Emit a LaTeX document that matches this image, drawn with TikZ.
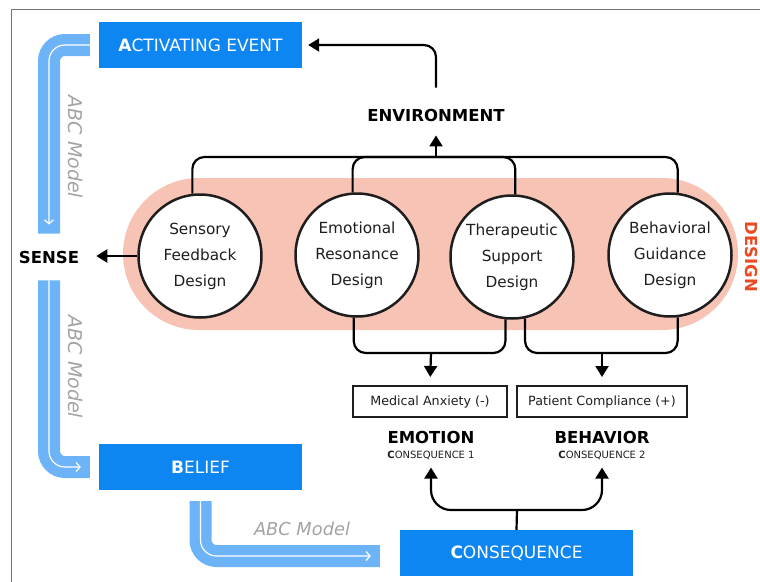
\documentclass[tikz,border=0pt]{standalone}
\usepackage{fontspec}
\setmainfont{DejaVu Sans}
\usepackage{xcolor}
\usepackage{tikz}
\usetikzlibrary{
  shapes.geometric,
  arrows.meta, positioning, calc
}
\definecolor{colorA}{HTML}{0D86F2}
\definecolor{colorB}{HTML}{6CB4F7}
\definecolor{colorP}{HTML}{F6C3B5}
\definecolor{colorR}{HTML}{EA4A22}
\definecolor{colorG}{HTML}{A3A3A3}
\definecolor{colorK}{HTML}{1E1E1E}

\tikzset{
  abcbox/.style={fill=colorA, text=white, minimum width=203pt, minimum height=46pt,
    inner sep=0pt, font=\fontsize{17}{20}\selectfont},
  design/.style={circle, draw=colorK, line width=2.5pt, fill=white, minimum size=123pt,
    inner sep=0pt, align=center, text=colorK, font=\fontsize{15.3}{26}\selectfont},
  result/.style={draw=colorK, line width=2pt, minimum height=31pt, inner sep=0pt,
    text=colorK, font=\fontsize{12.7}{15}\selectfont},
  head/.style={inner sep=1pt, text=black, font=\fontsize{16.5}{20}\selectfont\bfseries},
  sub/.style={inner sep=1pt, text=colorK, font=\fontsize{10}{12}\selectfont},
  link/.style={draw=black, line width=2.2pt, rounded corners=12pt},
  arr/.style={link, -{Triangle[length=11pt,width=13pt]}},
  band/.style={draw=colorB, line width=22pt, rounded corners=16pt,
    postaction={draw=white, line width=1.2pt, shorten >=9pt,
      -{Straight Barb[length=4pt,width=9pt]}}},
  abc/.style={text=colorG, inner sep=0pt, font=\fontsize{19}{20}\selectfont\itshape}
}

\begin{document}
\begin{tikzpicture}[x=1pt, y=-1pt]
\useasboundingbox (0,0) rectangle (760,581);
\draw[black!55, line width=1pt] (11,590) -- (11,9) -- (770,9);

% design group
\fill[colorP, rounded corners=75.9pt] (123,178) rectangle (738,330);
\node[head, text=colorR, rotate=-90] (dlabel) at (751,257) {DESIGN};

\node[design] (sfd) at (200,256) {Sensory\\Feedback\\Design};
\node[design] (erd) at (357,255) {Emotional\\Resonance\\Design};
\node[design] (tsd) at (512,257) {Therapeutic\\Support\\Design};
\node[design] (bgd) at (670,255) {Behavioral\\Guidance\\Design};

% ABC boxes
\node[abcbox] (ae) at (200.5,45) {\textbf{A}CTIVATING EVENT};
\node[abcbox] (be) at (200.5,467) {\textbf{B}ELIEF};
\node[abcbox, minimum width=233pt] (cq) at (516.5,553) {\textbf{C}ONSEQUENCE};

\node[head] (sense) at (49,257) {SENSE};
\node[head] (env) at (436,115) {ENVIRONMENT};

\node[result, minimum width=154pt] (mad) at (430,401.5) {Medical Anxiety (-)};
\node[result, minimum width=170pt] (pcd) at (602,401.5) {Patient Compliance (+)};
\node[head] (emo) at (431,437) {EMOTION};
\node[sub] (emosub) at (431,455) {\textbf{C}ONSEQUENCE 1};
\node[head] (beh) at (602,437) {BEHAVIOR};
\node[sub] (behsub) at (602,455) {\textbf{C}ONSEQUENCE 2};

% ABC model flow
\draw[band] ([xshift=-9pt]ae.west) -| ([yshift=16pt]sense.north);
\draw[band] ([yshift=-16pt]sense.south) |- ([xshift=-9pt]be.west);
\draw[band] ([yshift=-11pt]be.south) |- ($(cq.west)+(-20,3)$);
\node[abc, rotate=-90] (abc1) at (76,147) {ABC Model};
\node[abc, rotate=-90] (abc2) at (76,367) {ABC Model};
\node[abc, font=\fontsize{17.8}{20}\selectfont\itshape] (abc3) at (302,529) {ABC Model};

% design outputs
\coordinate (top) at (436,157);
\draw[link] (sfd.97) |- (top) -| (bgd.83);
\draw[link] (erd.94) |- (top);
\draw[link] (tsd.87) |- (top);
\draw[arr, shorten >=13pt] (top) -- (env.south);
\draw[arr, shorten >=6pt] ($(env.north)+(0,-20)$) |- (ae.east);
\draw[arr, shorten >=16pt] (sfd.west) -- (sfd.west -| sense.east);

\coordinate (emoin) at (431,353);
\coordinate (behin) at (602,353);
\draw[link] (erd.267) |- (emoin) -| (tsd.264);
\draw[link] (tsd.282) |- (behin) -| (bgd.277);
\draw[arr, shorten >=8pt] (emoin) -- (mad.north);
\draw[arr, shorten >=8pt] (behin) -- (pcd.north);

\coordinate (cqfork) at (517,510);
\draw[link] (cq.north) -- (cqfork);
\draw[arr, rounded corners=20pt, shorten >=7pt] (cqfork) -| (emosub.south);
\draw[arr, rounded corners=20pt, shorten >=7pt] (cqfork) -| (behsub.south);
\end{tikzpicture}
\end{document}
